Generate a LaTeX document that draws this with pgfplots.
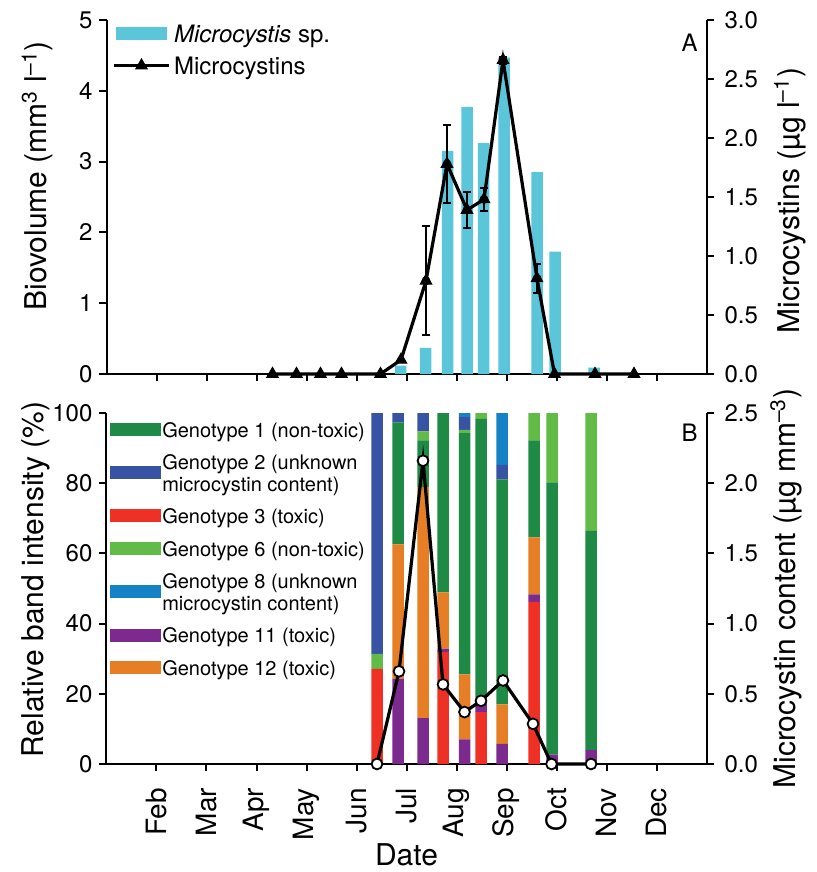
\documentclass[border=0pt]{standalone}
\usepackage{fontspec}
\setmainfont{TeX Gyre Heros}
\usepackage{graphicx}
\usepackage{pgfplots}
\pgfplotsset{compat=1.18}
\definecolor{cbar}{HTML}{5BC5DA}
\definecolor{gone}{HTML}{1E8A45}
\definecolor{gtwo}{HTML}{3953A4}
\definecolor{gthree}{HTML}{EE3124}
\definecolor{gsix}{HTML}{62BB46}
\definecolor{geight}{HTML}{1582C5}
\definecolor{geleven}{HTML}{7D2A8E}
\definecolor{gtwelve}{HTML}{E57E25}
\newcommand{\rl}[1]{\rotatebox{90}{\fontsize{14}{16}\selectfont #1}}
\pgfplotsset{
  panel/.style={
    scale only axis, width=300pt, xmin=0, xmax=12,
    axis line style={line width=1pt, black},
    every tick/.style={black, line width=1pt},
    major tick length=3.5pt,
    /pgf/number format/assume math mode=true,
    tick label style={font=\fontsize{12}{14}\selectfont},
    label style={font=\fontsize{15}{17}\selectfont},
    xtick={1,...,11},
    clip=false,
  },
  swatch/.style={legend image code/.code={\fill[#1] (0pt,-2pt) rectangle (25pt,4pt);}},
}
\begin{document}
\begin{tikzpicture}
% ---------------- Panel A: biovolume bars (left axis)
\begin{axis}[panel, height=177pt, at={(0,0)}, anchor=south west,
  axis x line*=bottom, axis y line*=left,
  xtick align=outside, ytick align=outside,
  xticklabels={},
  ymin=0, ymax=5, ytick={0,1,2,3,4,5},
  ylabel={Biovolume (mm\textsuperscript{3} l\textsuperscript{--1})},
  ylabel style={at={(axis description cs:-0.115,0.56)}, anchor=center},
  ybar, bar width=0.23]
\addplot[fill=cbar, draw=none] coordinates {
 (5.88,0.12) (6.38,0.37) (6.82,3.15) (7.21,3.77) (7.54,3.26)
 (7.95,4.47) (8.61,2.85) (8.97,1.73) (9.75,0.09)};
\end{axis}
% ---------------- Panel A: microcystins (right axis)
\begin{axis}[panel, height=177pt, at={(0,0)}, anchor=south west,
  axis x line=none, axis y line*=right, ytick align=outside,
  ymin=0, ymax=3, ytick={0,0.5,1,1.5,2,2.5,3},
  yticklabel style={xshift=2pt, /pgf/number format/.cd, fixed, fixed zerofill, precision=1},
  ylabel={Microcystins (µg l\textsuperscript{--1})},
  ylabel style={at={(axis description cs:1.139,0.49)}, anchor=center},
  legend style={at={(rel axis cs:0.0,1.01)}, anchor=north west, draw=none, fill=none,
    font=\fontsize{12}{14}\selectfont, row sep=2pt, column sep=0pt},
  legend cell align=left]
\addlegendimage{swatch=cbar}
\addlegendentry{\textit{Microcystis} sp.}
\addplot[forget plot, only marks, mark=none,
  error bars/.cd, y dir=both, y explicit,
  error bar style={black, line width=1pt},
  error mark options={rotate=90, black, line width=1pt, mark size=2pt}]
 coordinates {
 (6.39,0.79) +- (0,0.46)
 (6.81,1.78) +- (0,0.33)
 (7.21,1.39) +- (0,0.15)
 (7.55,1.48) +- (0,0.10)
 (7.93,2.66) +- (0,0.03)
 (8.61,0.81) +- (0,0.12)};
\addplot[black, line width=1.6pt, mark=triangle*, mark size=3.3pt,
  mark options={line width=0.5pt},
  legend image code/.code={\draw[black, line width=1.6pt] (-1pt,1pt) -- (26pt,1pt);
    \draw[black, mark=triangle*, mark size=3.3pt] plot coordinates {(12.5pt,1pt)};}]
 coordinates {
 (3.32,0) (3.80,0) (4.28,0) (4.70,0) (5.48,0) (5.89,0.12) (6.39,0.79)
 (6.81,1.78) (7.21,1.39) (7.55,1.48) (7.93,2.66) (8.61,0.81) (8.96,0)
 (9.77,0) (10.55,0)};
\addlegendentry{Microcystins}
\node[font=\fontsize{12}{14}\selectfont] at (rel axis cs:0.972,0.935) {A};
\end{axis}
% ---------------- Panel B: genotype bars (left axis)
\begin{axis}[panel, height=175.5pt, at={(0,-19.5pt)}, anchor=north west,
  axis x line*=bottom, axis y line*=left,
  xtick align=outside, ytick align=outside,
  xticklabels={\rl{Feb},\rl{Mar},\rl{Apr},\rl{May},\rl{Jun},\rl{Jul},\rl{Aug},\rl{Sep},\rl{Oct},\rl{Nov},\rl{Dec}},
  xticklabel style={anchor=north, yshift=-5pt},
  ymin=0, ymax=100, ytick={0,20,40,60,80,100},
  xlabel={Date},
  xlabel style={at={(axis description cs:0.5,-0.259)}, anchor=center},
  ylabel={Relative band intensity (\%)},
  ylabel style={at={(axis description cs:-0.118,0.525)}, anchor=center},
  ybar stacked, bar width=0.23,
  legend style={at={(rel axis cs:-0.004,0.998)}, anchor=north west, draw=none, fill=none,
    font=\fontsize{10}{10.8}\selectfont, row sep=3.3pt, column sep=0pt,
    cells={anchor=base west}, nodes={align=left, inner xsep=0.5pt}},
  legend cell align=left]
\addlegendimage{swatch=gone}
\addlegendentry{Genotype 1 (non-toxic)}
\addlegendimage{swatch=gtwo}
\addlegendentry{Genotype 2 (unknown\\microcystin content)}
\addlegendimage{swatch=gthree}
\addlegendentry{Genotype 3 (toxic)}
\addlegendimage{swatch=gsix}
\addlegendentry{Genotype 6 (non-toxic)}
\addlegendimage{swatch=geight}
\addlegendentry{Genotype 8 (unknown\\microcystin content)}
\addlegendimage{swatch=geleven}
\addlegendentry{Genotype 11 (toxic)}
\addlegendimage{swatch=gtwelve}
\addlegendentry{Genotype 12 (toxic)}
% stacking order bottom to top: G3, G11, G12, G1, G6, G2, G8
\addplot[forget plot, fill=gthree, draw=none] coordinates {
 (5.41,27.1) (5.83,0) (6.33,0) (6.73,31.9) (7.16,0) (7.49,14.8) (7.91,0) (8.55,46.2) (8.91,0) (9.69,0)};
\addplot[forget plot, fill=geleven, draw=none] coordinates {
 (5.41,0) (5.83,24.3) (6.33,13.1) (6.73,1.0) (7.16,7.0) (7.49,2.6) (7.91,5.7) (8.55,2.1) (8.91,2.7) (9.69,4.0)};
\addplot[forget plot, fill=gtwelve, draw=none] coordinates {
 (5.41,0) (5.83,38.3) (6.33,65.8) (6.73,16.0) (7.16,18.5) (7.49,0) (7.91,11.3) (8.55,16.3) (8.91,0) (9.69,0)};
\addplot[forget plot, fill=gone, draw=none] coordinates {
 (5.41,0) (5.83,34.7) (6.33,13.3) (6.73,51.1) (7.16,68.8) (7.49,80.9) (7.91,64.1) (8.55,27.6) (8.91,77.5) (9.69,62.4)};
\addplot[forget plot, fill=gsix, draw=none] coordinates {
 (5.41,4.3) (5.83,0) (6.33,2.6) (6.73,0) (7.16,0.9) (7.49,1.7) (7.91,0) (8.55,7.8) (8.91,19.8) (9.69,33.6)};
\addplot[forget plot, fill=gtwo, draw=none] coordinates {
 (5.41,68.6) (5.83,2.7) (6.33,5.2) (6.73,0) (7.16,3.6) (7.49,0) (7.91,4.1) (8.55,0) (8.91,0) (9.69,0)};
\addplot[forget plot, fill=geight, draw=none] coordinates {
 (5.41,0) (5.83,0) (6.33,0) (6.73,0) (7.16,1.2) (7.49,0) (7.91,14.8) (8.55,0) (8.91,0) (9.69,0)};
\end{axis}
% ---------------- Panel B: microcystin content (right axis)
\begin{axis}[panel, height=175.5pt, at={(0,-19.5pt)}, anchor=north west,
  axis x line=none, axis y line*=right, ytick align=outside,
  ymin=0, ymax=2.5, ytick={0,0.5,1,1.5,2,2.5},
  yticklabel style={xshift=2pt, /pgf/number format/.cd, fixed, fixed zerofill, precision=1},
  ylabel={Microcystin content (µg mm\textsuperscript{--3})},
  ylabel style={at={(axis description cs:1.133,0.5)}, anchor=center}]
\addplot[black, line width=1.6pt, mark=*, mark size=2.7pt,
  mark options={fill=white, draw=black, line width=0.9pt}] coordinates {
 (5.41,0) (5.85,0.66) (6.33,2.16) (6.73,0.567) (7.16,0.37) (7.49,0.45)
 (7.93,0.595) (8.53,0.286) (8.90,0) (9.69,0)};
\node[font=\fontsize{12}{14}\selectfont] at (rel axis cs:0.972,0.943) {B};
\end{axis}
\pgfresetboundingbox
\path (-53.25pt,-249pt) rectangle (355.25pt,187pt);
\end{tikzpicture}
\end{document}
